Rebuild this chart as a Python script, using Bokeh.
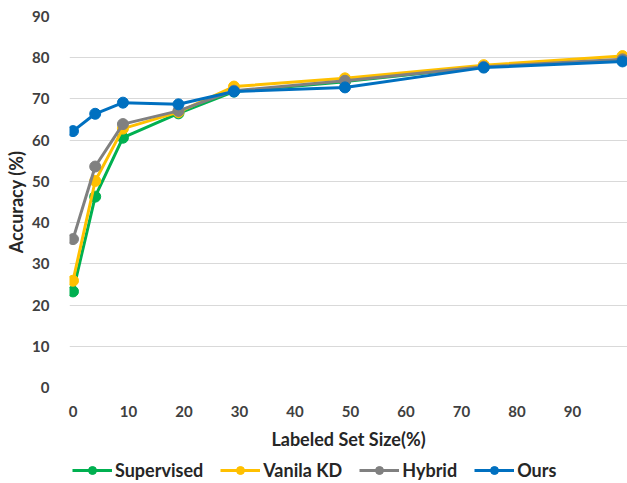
from bokeh.plotting import figure
from bokeh.layouts import column
from bokeh.models import Legend, LegendItem, FixedTicker, Range1d
from bokeh.embed import file_html
from bokeh.resources import INLINE

x_vals = [0, 4, 9, 19, 29, 49, 74, 99]
supervised = [23.3, 46.3, 60.6, 66.5, 71.8, 74.2, 77.8, 79.4]
vanila_kd = [25.9, 50.1, 62.8, 66.8, 73.0, 75.0, 78.2, 80.4]
hybrid = [36.0, 53.6, 63.9, 67.1, 72.0, 74.4, 77.8, 79.6]
ours = [62.2, 66.4, 69.1, 68.7, 71.8, 72.8, 77.6, 79.1]
series_names = ["Supervised", "Vanila KD", "Hybrid", "Ours"]
colors = ["#00B050", "#FFC000", "#808080", "#0070C0"]
x_ticks = [0, 10, 20, 30, 40, 50, 60, 70, 80, 90]
y_ticks = [0, 10, 20, 30, 40, 50, 60, 70, 80, 90]

FONT = "Lato"

# main chart
p = figure(width=627, height=452, output_backend="svg", toolbar_location=None,
           x_range=Range1d(-0.63, 99.9), y_range=Range1d(0, 90),
           min_border_left=69, min_border_top=16, min_border_right=0, min_border_bottom=64)
p.outline_line_color = None
p.border_fill_color = "white"
p.background_fill_color = "white"

for name, ys, c in zip(series_names, [supervised, vanila_kd, hybrid, ours], colors):
    p.line(x_vals, ys, line_color=c, line_width=3)
    p.scatter(x_vals, ys, size=11, fill_color=c, line_color=c)

for ax in (p.xaxis[0], p.yaxis[0]):
    ax.axis_line_color = None
    ax.major_tick_line_color = None
    ax.minor_tick_line_color = None
    ax.major_label_text_font = FONT
    ax.major_label_text_font_style = "bold"
    ax.major_label_text_font_size = "15px"
    ax.major_label_text_color = "#404040"
    ax.axis_label_text_font = FONT
    ax.axis_label_text_font_style = "bold"
    ax.axis_label_text_font_size = "18px"
    ax.axis_label_text_color = "#262626"

p.xaxis.ticker = FixedTicker(ticks=x_ticks)
p.yaxis.ticker = FixedTicker(ticks=y_ticks)
p.xaxis.axis_label = "Labeled Set Size(%)"
p.yaxis.axis_label = "Accuracy (%)"
p.xaxis.major_label_standoff = 12
p.xaxis.axis_label_standoff = 8
p.yaxis.major_label_standoff = 14
p.yaxis.axis_label_standoff = 2

p.xgrid.grid_line_color = None
p.ygrid.grid_line_color = "#D9D9D9"
p.ygrid.grid_line_width = 1

# legend strip below the chart
lg = figure(width=627, height=31, output_backend="svg", toolbar_location=None,
            x_range=Range1d(1000, 1001), y_range=Range1d(1000, 1001),
            x_axis_type=None, y_axis_type=None,
            min_border_left=0, min_border_top=0, min_border_right=0, min_border_bottom=0)
lg.outline_line_color = None
lg.xgrid.grid_line_color = None
lg.ygrid.grid_line_color = None

items = []
for name, ys, c in zip(series_names, [supervised, vanila_kd, hybrid, ours], colors):
    r1 = lg.line(x_vals, ys, line_color=c, line_width=3)
    r2 = lg.scatter(x_vals, ys, size=7, fill_color=c, line_color=c)
    items.append(LegendItem(label=name, renderers=[r1, r2]))

legend = Legend(items=items, orientation="horizontal", location=(3, 2),
                label_text_font=FONT, label_text_font_style="bold",
                label_text_font_size="18px", label_text_color="#262626",
                glyph_width=40, glyph_height=20, label_height=20,
                label_standoff=3, spacing=17,
                border_line_color=None, background_fill_alpha=0,
                padding=0, margin=0)
lg.add_layout(legend)

layout = column(p, lg, spacing=0)
open("out.html", "w").write(file_html(layout, INLINE))
